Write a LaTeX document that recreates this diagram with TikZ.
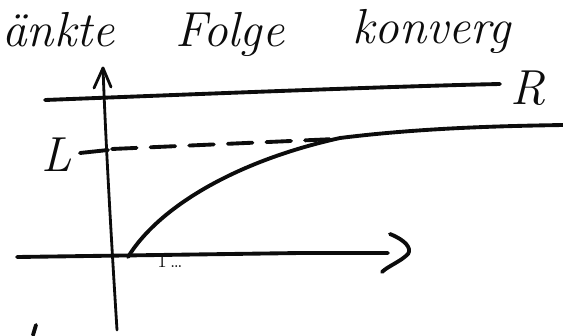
\documentclass[tikz,border=0pt]{standalone}
\usepackage{tikz}
\usetikzlibrary{
  arrows.meta,
  positioning
}
\definecolor{InkBlack}{RGB}{12, 12, 12}
\tikzset{
    ink/.style={draw=InkBlack, line width=2.2pt, line cap=round, line join=round},
    thinink/.style={ink, line width=1.6pt},
    scribble/.style={font=\fontsize{28}{32}\selectfont\itshape, text=InkBlack, inner sep=0pt},
}

\begin{document}
\begin{tikzpicture}[x=0.02cm, y=-0.02cm]
    \useasboundingbox (0,0) rectangle (563,335);
    \clip (0,0) rectangle (563,335);
    % headline
    \node[scribble, anchor=base west] (wordA) at (2,46) {änkte};
    \node[scribble, anchor=base west] (wordB) at (175,46) {Folge};
    \node[scribble, anchor=base west] (wordC) at (352,43) {konverg};
    % upper bound
    \draw[ink] (45,100) .. controls (200,94) and (400,86) .. (500,84);
    \node[scribble, anchor=base west] (labelR) at (510,104) {R};
    % axes
    \draw[thinink] (117,330) .. controls (112,250) and (106,150) .. (103,68);
    \draw[thinink] (94,88) -- (103,68) -- (111,87);
    \draw[ink] (17,257) -- (300,253) -- (388,253);
    \draw[ink] (390,234) .. controls (405,240) and (412,248) .. (408,254)
        .. controls (400,262) and (388,266) .. (382,272);
    \node[font=\fontsize{11}{12}\selectfont, text=InkBlack, inner sep=0pt] (ticks) at (170,261) {1\,\dots};
    \draw[ink] (36,325) -- (33,335);
    % limit
    \node[scribble, anchor=base] (labelL) at (57,171) {L};
    \draw[ink] (80,153) -- (108,150);
    \draw[ink, dash pattern=on 14pt off 8pt] (112,149) -- (335,139);
    % sequence
    \draw[ink] (128,257) .. controls (160,205) and (240,160) .. (340,138)
        .. controls (420,128) and (500,126) .. (563,125);
\end{tikzpicture}
\end{document}
